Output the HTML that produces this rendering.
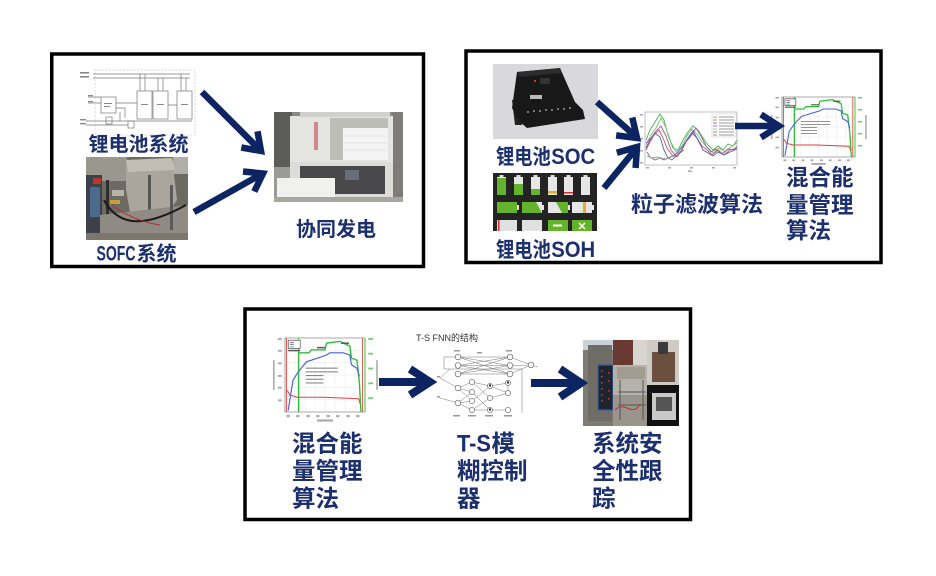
<!DOCTYPE html>
<html><head><meta charset="utf-8">
<style>
html,body{margin:0;padding:0;background:#fff;}
svg{display:block;}
.t{font-family:"Liberation Sans","Noto Sans CJK SC",sans-serif;font-weight:bold;fill:#1c2f6e;}
.s{font-family:"Liberation Sans","Noto Sans CJK SC",sans-serif;fill:#333;}
.ns{vector-effect:non-scaling-stroke;}
</style></head><body>
<svg width="936" height="576" viewBox="0 0 936 576" xmlns="http://www.w3.org/2000/svg">
<rect width="936" height="576" fill="#fff"/>

<!-- ===== Box 1 ===== -->
<rect x="51.75" y="54" width="371.75" height="212.5" fill="none" stroke="#000" stroke-width="3.5"/>

<!-- circuit diagram -->
<g stroke="#777" stroke-width="0.7" fill="none">
 <rect x="95" y="70" width="100" height="65" stroke="#ccc" stroke-dasharray="2,1.5"/>
 <path d="M93,74 H190 M93,78 H190"/>
 <path d="M140,74 V91 M158,78 V91 M181,74 V91 M186,78 V91 M145,74 V91 M163,78 V91"/>
 <rect x="137" y="91" width="15" height="28" fill="#fff"/>
 <rect x="153" y="91" width="15" height="28" fill="#fff"/>
 <rect x="177" y="91" width="15" height="28" fill="#fff"/>
 <rect x="101" y="97" width="15" height="16" fill="#fff"/>
 <rect x="106" y="117" width="6" height="7" fill="#fff"/>
 <rect x="128" y="121" width="6" height="7" fill="#fff"/>
 <path d="M86,121 H192 M86,125 H128 M116,103 H137 M116,108 H125 V118 M88,97 H101 M88,103 H101 M120,112 V121 M168,105 H177"/>
</g>
<g fill="#888">
 <rect x="80" y="72" width="9" height="1.6"/><rect x="80" y="76" width="9" height="1.6"/>
 <rect x="88" y="95" width="5" height="1.2"/><rect x="88" y="101" width="5" height="1.2"/>
 <rect x="80" y="119" width="6" height="1.4"/><rect x="80" y="123" width="6" height="1.4"/>
 <rect x="141" y="104" width="7" height="1"/><rect x="157" y="104" width="7" height="1"/>
 <rect x="181" y="104" width="7" height="1"/><rect x="104" y="103" width="8" height="1"/>
 <rect x="104" y="106" width="6" height="1"/>
</g>
<text class="t" x="88.5" y="151" font-size="20">锂电池系统</text>

<!-- SOFC photo -->
<g>
 <rect x="86" y="157" width="102" height="83" fill="#6d6a64"/>
 <rect x="86" y="157" width="41" height="24" fill="#9a978f"/>
 <rect x="173" y="157" width="15" height="17" fill="#b0aea8"/>
 <rect x="86" y="175" width="16" height="65" fill="#3d4048"/>
 <rect x="90" y="187" width="10" height="30" fill="#4b6b8e"/>
 <rect x="93" y="178" width="8" height="6" fill="#b83a2e"/>
 <polygon points="126,160 172,158 177,200 170,210 130,212 126,190" fill="#aaa69e"/>
 <polygon points="126,160 172,158 175,170 128,172" fill="#c2beb6"/>
 <rect x="148" y="175" width="3" height="45" fill="#555"/>
 <rect x="106" y="180" width="3" height="55" fill="#2e2e2e"/>
 <rect x="110" y="200" width="10" height="4" fill="#c8a040"/>
 <rect x="112" y="190" width="12" height="6" fill="#b7b3a9"/>
 <polygon points="100,215 188,205 188,240 100,240" fill="#8f8b84"/>
 <rect x="170" y="185" width="3" height="45" fill="#5a5a5a"/>
 <rect x="86" y="233" width="102" height="7" fill="#7b776f"/>
 <path d="M104,200 C120,230 150,225 186,205" stroke="#1a1a1a" stroke-width="2" fill="none"/>
 <path d="M112,205 C125,215 140,222 160,225" stroke="#b03030" stroke-width="1" fill="none"/>
</g>
<text class="t" x="96.5" y="260.5" font-size="21" textLength="39" lengthAdjust="spacingAndGlyphs">SOFC</text>
<text class="t" x="136.5" y="260.5" font-size="20">系统</text>

<!-- cogeneration photo -->
<g>
 <rect x="274" y="112" width="129" height="90" fill="#8a8a88"/>
 <rect x="274" y="112" width="18" height="55" fill="#5c5c5a"/>
 <rect x="274" y="167" width="18" height="35" fill="#9a9a98"/>
 <rect x="392" y="112" width="11" height="90" fill="#7e7c78"/>
 <rect x="290" y="116" width="103" height="46" fill="#e4e4e1"/>
 <rect x="300" y="112" width="90" height="5" fill="#d0d0cc"/>
 <rect x="314" y="122" width="4" height="28" fill="#d08888"/>
 <rect x="330" y="118" width="58" height="42" fill="#bdbdb8"/>
 <rect x="343" y="128" width="45" height="32" fill="#f3f3f3"/>
 <path d="M344,136 H387 M344,143 H387 M344,150 H387" stroke="#dedede" stroke-width="0.8"/>
 <rect x="290" y="162" width="103" height="36" fill="#dcdcd8"/>
 <rect x="300" y="166" width="85" height="28" fill="#48484a"/>
 <rect x="345" y="170" width="14" height="10" fill="#6a6e78"/>
 <rect x="277" y="178" width="58" height="22" fill="#f0f0ee"/>
 <rect x="274" y="197" width="129" height="5" fill="#a8a6a0"/>
</g>
<text class="t" x="296" y="236" font-size="20">协同发电</text>

<!-- arrows box1 -->
<g stroke="#0d2463" stroke-width="6.5" fill="none" stroke-linejoin="miter">
 <path d="M202,92 L259,149"/>
 <polyline points="257.5,131.3 261,151 241.3,147.5"/>
 <path d="M194,212 L260,175"/>
 <polyline points="243,171.5 263,173.5 254.3,191.5"/>
</g>

<!-- ===== Box 2 ===== -->
<rect x="466" y="51" width="415" height="211.5" fill="none" stroke="#000" stroke-width="3.5"/>

<!-- SOC device -->
<g>
 <rect x="493" y="64" width="105" height="75" fill="#d9d9db"/>
 <polygon points="512,100 519,98 522,125 515,125" fill="#222"/>
 <polygon points="517,72 560,68 575,102 583,110 585,119 527,128 519,121 512,108" fill="#181818"/>
 <polygon points="517,72 560,68 562,73 519,77" fill="#2c2c2c"/>
 <rect x="540" y="78" width="10" height="6" fill="#333"/>
 <rect x="534" y="80" width="2" height="2" fill="#c33"/>
 <rect x="530" y="95" width="12" height="4" fill="#bbb"/>
 <g fill="#777">
  <rect x="527" y="111" width="2" height="2"/><rect x="533" y="110" width="2" height="2"/>
  <rect x="539" y="110" width="2" height="2"/><rect x="545" y="109" width="2" height="2"/>
  <rect x="551" y="109" width="2" height="2"/><rect x="557" y="108" width="2" height="2"/>
  <rect x="563" y="108" width="2" height="2"/><rect x="569" y="107" width="2" height="2"/>
 </g>
</g>
<g transform="translate(496,164) scale(0.87,1)">
 <text class="t" x="0" y="0" font-size="21">锂电池</text>
 <text class="t" x="63.5" y="0" font-size="22" textLength="50.5" lengthAdjust="spacingAndGlyphs">SOC</text>
</g>

<!-- SOH batteries -->
<g>
 <rect x="493" y="173" width="104" height="58" fill="#232323"/>
 <g fill="#ddd">
  <rect x="499.5" y="175" width="4" height="2"/><rect x="516.5" y="175" width="4" height="2"/>
  <rect x="533.5" y="175" width="4" height="2"/><rect x="550.5" y="175" width="4" height="2"/>
  <rect x="566.5" y="175" width="4" height="2"/><rect x="583.5" y="175" width="4" height="2"/>
 </g>
 <g fill="#e6e6e6">
  <rect x="497" y="177" width="9" height="18"/><rect x="514" y="177" width="9" height="18"/>
  <rect x="531" y="177" width="9" height="18"/><rect x="548" y="177" width="9" height="18"/>
  <rect x="564" y="177" width="9" height="18"/><rect x="581" y="177" width="9" height="18"/>
 </g>
 <rect x="497" y="178" width="9" height="17" fill="#63b42b"/>
 <rect x="514" y="184" width="9" height="11" fill="#63b42b"/>
 <rect x="531" y="189" width="9" height="6" fill="#63b42b"/>
 <rect x="548" y="191" width="9" height="2.5" fill="#e0b020"/>
 <rect x="564" y="192" width="9" height="1.5" fill="#d03030"/>
 <!-- row 2 -->
 <g fill="#e6e6e6">
  <rect x="497" y="202" width="20" height="11"/><rect x="522" y="202" width="20" height="11"/>
  <rect x="548" y="202" width="20" height="11"/><rect x="572" y="202" width="20" height="11"/>
  <rect x="517" y="205" width="2" height="5"/><rect x="542" y="205" width="2" height="5"/>
  <rect x="568" y="205" width="2" height="5"/><rect x="592" y="205" width="2" height="5"/>
 </g>
 <rect x="497" y="202" width="20" height="11" fill="#63b42b"/>
 <polygon points="522,202 536,202 542,213 522,213" fill="#63b42b"/>
 <polygon points="556,202 568,202 568,213 562,213" fill="#63b42b"/>
 <rect x="583" y="202" width="3" height="11" fill="#e0b020"/>
 <!-- row 3 -->
 <g fill="#e0e0e0">
  <rect x="497" y="220" width="20" height="11"/><rect x="522" y="220" width="20" height="11"/>
 </g>
 <rect x="498" y="220" width="1.5" height="11" fill="#d03030"/>
 <rect x="548" y="220" width="20" height="11" fill="#63b42b"/>
 <rect x="572" y="220" width="20" height="11" fill="#63b42b"/>
 <rect x="553" y="224.5" width="9" height="2" fill="#fff"/>
 <path d="M579,223 L585,229 M585,223 L579,229" stroke="#fff" stroke-width="1.5"/>
</g>
<g transform="translate(496,257) scale(0.87,1)">
 <text class="t" x="0" y="0" font-size="21">锂电池</text>
 <text class="t" x="63.5" y="0" font-size="22" textLength="50.5" lengthAdjust="spacingAndGlyphs">SOH</text>
</g>

<!-- particle filter chart -->
<g>
 <rect x="645" y="112" width="92" height="53" fill="#fff" stroke="#999" stroke-width="0.6"/>
 <g fill="#aaa">
  <rect x="640" y="114" width="3" height="1.5"/><rect x="640" y="126" width="3" height="1.5"/>
  <rect x="640" y="138" width="3" height="1.5"/><rect x="640" y="150" width="3" height="1.5"/>
  <rect x="640" y="162" width="3" height="1.5"/>
  <rect x="646" y="167" width="3" height="1.5"/><rect x="668" y="167" width="3" height="1.5"/>
  <rect x="690" y="167" width="3" height="1.5"/><rect x="712" y="167" width="3" height="1.5"/>
  <rect x="733" y="167" width="3" height="1.5"/><rect x="688" y="170.5" width="4" height="1.5"/>
 </g>
 <g fill="none" stroke-width="0.9">
  <polyline stroke="#4caf50" points="646,140 650,130 655,122 660,114 664,120 668,135 673,148 678,150 683,140 688,132 693,126 698,130 703,138 708,145 713,150 718,146 723,150 728,144 733,146 737,140"/>
  <polyline stroke="#7bc96f" points="646,145 651,135 656,128 661,118 666,128 671,142 676,152 682,146 687,136 692,129 697,134 702,142 708,148 713,153 719,148 725,152 731,147 737,143"/>
  <polyline stroke="#d9534f" points="646,150 650,142 654,135 659,130 663,138 667,148 672,155 677,157 682,150 687,140 692,133 697,138 702,146 707,150 712,155 718,150 724,155 730,150 737,148"/>
  <polyline stroke="#4a5fc1" points="646,148 650,140 655,133 660,137 664,150 668,158 673,156 678,152 683,146 688,138 693,131 698,140 703,150 708,153 713,156 718,152 724,155 730,152 737,149"/>
  <polyline stroke="#8e5ea2" points="646,143 651,138 656,131 661,126 666,136 671,150 676,156 681,151 686,142 691,136 696,128 701,136 706,146 711,152 716,149 722,154 728,149 734,150 737,146"/>
  <polyline stroke="#777" points="647,152 650,157 655,160 660,158 664,160 668,158 672,160 676,156 680,153 684,150"/>
  <polyline stroke="#999" points="647,156 652,158 658,157 664,159 670,158"/>
 </g>
 <rect x="712" y="114" width="24" height="23" fill="#fff" stroke="#bbb" stroke-width="0.4"/>
 <g stroke-width="0.8">
  <path d="M713,117 h4" stroke="#4caf50"/><path d="M713,120 h4" stroke="#d9534f"/>
  <path d="M713,123 h4" stroke="#4a5fc1"/><path d="M713,126 h4" stroke="#8e5ea2"/>
  <path d="M713,129 h4" stroke="#7bc96f"/><path d="M713,132 h4" stroke="#777"/>
  <path d="M713,135 h4" stroke="#d9534f"/>
 </g>
 <g fill="#999">
  <rect x="719" y="116.5" width="15" height="1"/><rect x="719" y="119.5" width="15" height="1"/>
  <rect x="719" y="122.5" width="15" height="1"/><rect x="719" y="125.5" width="15" height="1"/>
  <rect x="719" y="128.5" width="15" height="1"/><rect x="719" y="131.5" width="15" height="1"/>
  <rect x="719" y="134.5" width="15" height="1"/>
 </g>
</g>
<text class="t" x="631" y="212" font-size="22">粒子滤波算法</text>

<!-- energy chart (box 2) -->
<g transform="translate(782,97) scale(0.73,0.6)">
 <rect x="0" y="0" width="100" height="100" fill="#fff" stroke="#555" stroke-width="0.6" class="ns"/>
 <path class="ns" d="M12.5,0V100 M25,0V100 M37.5,0V100 M50,0V100 M62.5,0V100 M75,0V100 M87.5,0V100 M0,16.7H100 M0,33.3H100 M0,50H100 M0,66.7H100 M0,83.3H100" stroke="#e2e2e2" stroke-width="0.4" fill="none"/>
 <g fill="#aaa">
  <rect x="-9" y="0" width="5" height="2.5"/><rect x="-9" y="16" width="5" height="2.5"/>
  <rect x="-9" y="33" width="5" height="2.5"/><rect x="-9" y="50" width="5" height="2.5"/>
  <rect x="-9" y="66" width="5" height="2.5"/><rect x="-9" y="83" width="5" height="2.5"/>
  <rect x="-15" y="30" width="2" height="40"/>
  <rect x="2" y="104" width="4" height="3"/><rect x="14" y="104" width="4" height="3"/>
  <rect x="27" y="104" width="4" height="3"/><rect x="39" y="104" width="4" height="3"/>
  <rect x="52" y="104" width="4" height="3"/><rect x="64" y="104" width="4" height="3"/>
  <rect x="77" y="104" width="4" height="3"/><rect x="89" y="104" width="4" height="3"/>
  <rect x="40" y="110" width="20" height="3"/>
  <rect x="114" y="30" width="2" height="40"/>
 </g>
 <g fill="#7c7">
  <rect x="104" y="0" width="6" height="2.5"/><rect x="104" y="20" width="6" height="2.5"/>
  <rect x="104" y="40" width="6" height="2.5"/><rect x="104" y="60" width="6" height="2.5"/>
  <rect x="104" y="80" width="6" height="2.5"/>
 </g>
 <path class="ns" d="M2,0V100 M97,0V100" stroke="#e33" stroke-width="0.8"/>
 <path class="ns" d="M17,0V100 M100,0V100" stroke="#3c3" stroke-width="1"/>
 <g fill="#888">
  <rect x="26" y="40" width="40" height="1.5"/><rect x="26" y="45" width="40" height="1.5"/>
  <rect x="26" y="50" width="22" height="1.5"/><rect x="26" y="55" width="22" height="1.5"/>
  <rect x="26" y="60" width="22" height="1.5"/>
 </g>
 <polyline class="ns" fill="none" stroke="#2ebd3a" stroke-width="1.3" points="17,100 17,20 30,20 33,16 50,16 52,7 69,4.5 73,7 81,11 83,27 90,30 93,61 95,100"/>
 <polyline class="ns" fill="none" stroke="#4a63e0" stroke-width="1.1" points="4,98 6,84 10,57 17,45 27,32 33,30 52,23 56,20 73,20 81,23 83,36 90,41 93,52"/>
 <polyline class="ns" fill="none" stroke="#e04040" stroke-width="1" points="2,70 4,73 6,77 15,80 48,80 70,81 92,82 94,89"/>
 <rect class="ns" x="4" y="3" width="15" height="11" fill="#fff" stroke="#333" stroke-width="0.6"/>
 <path class="ns" d="M6,6h5" stroke="#e04040" stroke-width="0.8"/>
 <path class="ns" d="M6,9h5" stroke="#4a63e0" stroke-width="0.8"/>
 <path class="ns" d="M6,12h5" stroke="#2ebd3a" stroke-width="0.8"/>
 <rect x="4" y="16" width="15" height="2" fill="#555"/>
 <rect x="40" y="12" width="10" height="2" fill="#555"/><rect x="70" y="6" width="10" height="2" fill="#555"/>
</g>
<text class="t" x="786" y="185.5" font-size="22.5">混合能</text>
<text class="t" x="786" y="213" font-size="22.5">量管理</text>
<text class="t" x="786" y="238.5" font-size="22.5">算法</text>

<!-- arrows box2 -->
<g stroke="#0d2463" stroke-width="6.5" fill="none" stroke-linejoin="miter">
 <path d="M597,102 L634,135"/>
 <polyline points="632.3,117.5 637,138 616.1,135.4"/>
 <path d="M604,188 L635,150"/>
 <polyline points="616.8,152.8 637,147 635.6,168"/>
 <path d="M735,126 L777,126"/>
 <polyline points="761,114.5 779,126 761,137.5"/>
</g>

<!-- ===== Box 3 ===== -->
<rect x="245" y="309" width="445.5" height="210.5" fill="none" stroke="#000" stroke-width="3.5"/>

<!-- energy chart (box 3) -->
<g transform="translate(285,338) scale(0.8,0.74)">
 <rect x="0" y="0" width="100" height="100" fill="#fff" stroke="#555" stroke-width="0.6" class="ns"/>
 <path class="ns" d="M12.5,0V100 M25,0V100 M37.5,0V100 M50,0V100 M62.5,0V100 M75,0V100 M87.5,0V100 M0,16.7H100 M0,33.3H100 M0,50H100 M0,66.7H100 M0,83.3H100" stroke="#e2e2e2" stroke-width="0.4" fill="none"/>
 <g fill="#aaa">
  <rect x="-9" y="0" width="5" height="2.5"/><rect x="-9" y="16" width="5" height="2.5"/>
  <rect x="-9" y="33" width="5" height="2.5"/><rect x="-9" y="50" width="5" height="2.5"/>
  <rect x="-9" y="66" width="5" height="2.5"/><rect x="-9" y="83" width="5" height="2.5"/>
  <rect x="-15" y="30" width="2" height="40"/>
  <rect x="2" y="104" width="4" height="3"/><rect x="14" y="104" width="4" height="3"/>
  <rect x="27" y="104" width="4" height="3"/><rect x="39" y="104" width="4" height="3"/>
  <rect x="52" y="104" width="4" height="3"/><rect x="64" y="104" width="4" height="3"/>
  <rect x="77" y="104" width="4" height="3"/><rect x="89" y="104" width="4" height="3"/>
  <rect x="40" y="110" width="20" height="3"/>
  <rect x="114" y="30" width="2" height="40"/>
 </g>
 <g fill="#7c7">
  <rect x="104" y="0" width="6" height="2.5"/><rect x="104" y="20" width="6" height="2.5"/>
  <rect x="104" y="40" width="6" height="2.5"/><rect x="104" y="60" width="6" height="2.5"/>
  <rect x="104" y="80" width="6" height="2.5"/>
 </g>
 <path class="ns" d="M2,0V100 M97,0V100" stroke="#e33" stroke-width="0.8"/>
 <path class="ns" d="M17,0V100 M100,0V100" stroke="#3c3" stroke-width="1"/>
 <g fill="#888">
  <rect x="26" y="40" width="40" height="1.5"/><rect x="26" y="45" width="40" height="1.5"/>
  <rect x="26" y="50" width="22" height="1.5"/><rect x="26" y="55" width="22" height="1.5"/>
  <rect x="26" y="60" width="22" height="1.5"/>
 </g>
 <polyline class="ns" fill="none" stroke="#2ebd3a" stroke-width="1.4" points="17,100 17,20 30,20 33,16 50,16 52,7 69,4.5 73,7 81,11 83,27 90,30 93,61 95,100"/>
 <polyline class="ns" fill="none" stroke="#4a63e0" stroke-width="1.2" points="4,98 6,84 10,57 17,45 27,32 33,30 52,23 56,20 73,20 81,23 83,36 90,41 93,52"/>
 <polyline class="ns" fill="none" stroke="#e04040" stroke-width="1" points="2,70 4,73 6,77 15,80 48,80 70,81 92,82 94,89"/>
 <rect class="ns" x="4" y="3" width="15" height="11" fill="#fff" stroke="#333" stroke-width="0.6"/>
 <path class="ns" d="M6,6h5" stroke="#e04040" stroke-width="0.8"/>
 <path class="ns" d="M6,9h5" stroke="#4a63e0" stroke-width="0.8"/>
 <path class="ns" d="M6,12h5" stroke="#2ebd3a" stroke-width="0.8"/>
 <rect x="4" y="16" width="15" height="2" fill="#555"/>
 <rect x="40" y="12" width="10" height="2" fill="#555"/><rect x="70" y="6" width="10" height="2" fill="#555"/>
</g>
<text class="t" x="292" y="451.5" font-size="23.5">混合能</text>
<text class="t" x="292" y="479" font-size="23.5">量管理</text>
<text class="t" x="292" y="506.5" font-size="23.5">算法</text>

<!-- FNN diagram -->
<text class="s" x="416" y="341" font-size="9">T-S FNN的结构</text>
<g stroke="#777" stroke-width="0.5" fill="none">
 <path d="M458,357 L510,357 M458,357 L510,365.5 M458,357 L510,374 M458,365.5 L510,357 M458,365.5 L510,365.5 M458,365.5 L510,374 M458,374 L510,357 M458,374 L510,365.5 M458,374 L510,374"/>
 <path d="M510,357 L531,365 M510,365.5 L531,365 M510,374 L531,365 M531,365 L538,367"/>
 <path d="M444,357 H458 M444,369 H522 M444,369 V357 M522,369 V413"/>
 <path d="M440,378 L458,388 M440,398 L458,403 M440,378 L450,369"/>
 <path d="M458,388 L472,382 M458,388 L472,392 M458,403 L472,401 M458,403 L472,410 M458,388 L472,401 M458,403 L472,392"/>
 <path d="M472,382 L490,386 M472,392 L490,410 M472,401 L490,386 M472,410 L490,398 M472,382 L490,398 M472,410 L490,410"/>
 <path d="M490,386 L508,383 M490,398 L508,393 M490,410 L508,410 M490,386 L508,393 M508,383 V393"/>
</g>
<g stroke="#555" stroke-width="0.6" fill="#fff">
 <circle cx="458" cy="357" r="2.8"/><circle cx="458" cy="365.5" r="2.8"/><circle cx="458" cy="374" r="2.8"/>
 <circle cx="510" cy="357" r="2.8"/><circle cx="510" cy="365.5" r="2.8"/><circle cx="510" cy="374" r="2.8"/>
 <circle cx="531" cy="365" r="2.8"/>
 <circle cx="458" cy="388" r="2.8"/><circle cx="458" cy="403" r="2.8"/>
 <circle cx="472" cy="382" r="2.6"/><circle cx="472" cy="392" r="2.6"/><circle cx="472" cy="401" r="2.6"/><circle cx="472" cy="410" r="2.6"/>
 <circle cx="490" cy="386" r="2.6"/><circle cx="490" cy="398" r="2.6"/><circle cx="490" cy="410" r="2.6"/>
 <circle cx="508" cy="383" r="2.6"/><circle cx="508" cy="393" r="2.6"/><circle cx="508" cy="410" r="2.6"/>
</g>
<g fill="#999">
 <rect x="454" y="350" width="6" height="1.5"/><rect x="477" y="352" width="5" height="1.5"/>
 <rect x="506" y="350" width="6" height="1.5"/><rect x="437" y="376" width="3" height="1.5"/>
 <rect x="437" y="396" width="3" height="1.5"/>
 <rect x="453" y="415" width="7" height="1.5"/><rect x="468" y="415" width="8" height="1.5"/>
 <rect x="485" y="415" width="8" height="1.5"/><rect x="504" y="415" width="8" height="1.5"/>
</g>
<g fill="#222">
 <rect x="489" y="384.5" width="2" height="2"/><rect x="489" y="408.5" width="2" height="2"/>
 <rect x="507" y="381.5" width="2" height="2"/>
</g>
<text class="t" x="457" y="451.5" font-size="24" textLength="34" lengthAdjust="spacingAndGlyphs">T-S</text>
<text class="t" x="491.5" y="451.5" font-size="23.5">模</text>
<text class="t" x="457" y="479" font-size="23.5">糊控制</text>
<text class="t" x="457" y="506.5" font-size="23.5">器</text>

<!-- safety photo -->
<g>
 <rect x="583" y="340" width="96" height="86" fill="#8a8780"/>
 <rect x="583" y="340" width="30" height="86" fill="#7d7b74"/>
 <rect x="583" y="340" width="30" height="10" fill="#c8d2d8"/>
 <rect x="588" y="345" width="24" height="76" fill="#6f6d66"/>
 <rect x="598" y="365" width="15" height="45" fill="#1e2430" stroke="#3a5ca0" stroke-width="1.2"/>
 <g fill="#c04040">
  <rect x="601" y="370" width="1.5" height="1.5"/><rect x="601" y="376" width="1.5" height="1.5"/>
  <rect x="601" y="382" width="1.5" height="1.5"/><rect x="601" y="388" width="1.5" height="1.5"/>
  <rect x="601" y="394" width="1.5" height="1.5"/><rect x="601" y="400" width="1.5" height="1.5"/>
  <rect x="608" y="372" width="1.5" height="1.5"/><rect x="608" y="380" width="1.5" height="1.5"/>
  <rect x="608" y="390" width="1.5" height="1.5"/><rect x="608" y="398" width="1.5" height="1.5"/>
 </g>
 <rect x="613" y="340" width="20" height="25" fill="#6a3a32"/>
 <rect x="633" y="340" width="14" height="25" fill="#d8d4d0"/>
 <rect x="613" y="365" width="34" height="30" fill="#b5b2aa"/>
 <rect x="617" y="367" width="28" height="12" fill="#a09c90"/>
 <rect x="613" y="395" width="34" height="31" fill="#9a958c"/>
 <path d="M620,380 V420 M643,380 V420 M618,392 H646 M618,405 H646" stroke="#555" stroke-width="1"/>
 <path d="M615,410 C625,400 632,418 640,404" stroke="#c03030" stroke-width="1" fill="none"/>
 <rect x="647" y="340" width="32" height="45" fill="#cfcac4"/>
 <rect x="652" y="352" width="23" height="30" fill="#6b5040"/>
 <rect x="658" y="342" width="10" height="12" fill="#3a3a3a"/>
 <rect x="647" y="385" width="32" height="41" fill="#111"/>
 <rect x="652" y="393" width="24" height="27" fill="#c9c9c9"/>
 <rect x="656" y="397" width="16" height="14" fill="#555"/>
</g>
<text class="t" x="592" y="451.5" font-size="23.5">系统安</text>
<text class="t" x="592" y="479" font-size="23.5">全性跟</text>
<text class="t" x="592" y="506.5" font-size="23.5">踪</text>

<!-- arrows box3 -->
<g stroke="#0d2463" stroke-width="8" fill="none" stroke-linejoin="miter">
 <path d="M379,382 L427,382"/>
 <polyline points="410,369 430,382 410,395"/>
 <path d="M531,383 L578,383"/>
 <polyline points="560,369 581,383 560,397"/>
</g>
</svg>
</body></html>
